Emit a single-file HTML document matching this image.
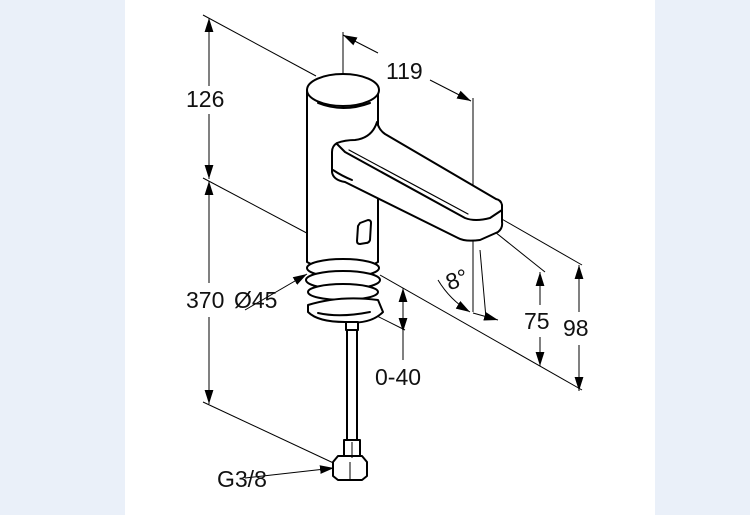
<!DOCTYPE html>
<html><head><meta charset="utf-8"><style>
html,body{margin:0;padding:0;background:#fff}
svg{display:block}
text{font-family:"Liberation Sans",sans-serif;font-size:23px;fill:#111}
</style></head><body>
<svg width="750" height="515" viewBox="0 0 750 515" xmlns="http://www.w3.org/2000/svg">
<defs>
<marker id="a" viewBox="0 0 10 10" refX="10" refY="5" markerWidth="14" markerHeight="11" orient="auto-start-reverse" markerUnits="userSpaceOnUse" preserveAspectRatio="none"><path d="M0,1 L10,5 L0,9 z" fill="#000"/></marker>
</defs>
<rect x="0" y="0" width="125" height="515" fill="#eaf0f9"/>
<rect x="655" y="0" width="95" height="515" fill="#eaf0f9"/>
<g stroke="#000" stroke-width="1" fill="none">
<line x1="209" y1="18" x2="209" y2="86" marker-start="url(#a)"/>
<line x1="209" y1="114" x2="209" y2="179" marker-end="url(#a)"/>
<line x1="209" y1="181" x2="209" y2="283" marker-start="url(#a)"/>
<line x1="209" y1="317" x2="209" y2="404" marker-end="url(#a)"/>
<line x1="203" y1="15" x2="316" y2="76"/>
<line x1="203" y1="178" x2="318" y2="239"/>
<line x1="203" y1="402" x2="342" y2="467"/>
<line x1="245" y1="310" x2="307" y2="274" marker-end="url(#a)"/>
<line x1="245" y1="478" x2="334" y2="468" marker-end="url(#a)"/>
<line x1="343" y1="32" x2="343" y2="74"/>
<line x1="343" y1="35" x2="378" y2="53" marker-start="url(#a)"/>
<line x1="430" y1="80" x2="471" y2="101" marker-end="url(#a)"/>
<line x1="473" y1="98" x2="473" y2="312"/>
<line x1="480" y1="250" x2="486" y2="318"/>
<line x1="473" y1="313" x2="498" y2="320" marker-end="url(#a)"/>
<path d="M438,280 Q450,300 470,312" marker-end="url(#a)"/>
<line x1="490" y1="228" x2="545" y2="272"/>
<line x1="500" y1="218" x2="582" y2="265"/>
<line x1="380" y1="275" x2="582" y2="390"/>
<line x1="375" y1="315" x2="405" y2="330"/>
<line x1="540" y1="272" x2="540" y2="305" marker-start="url(#a)"/>
<line x1="540" y1="337" x2="540" y2="366" marker-end="url(#a)"/>
<line x1="579" y1="265" x2="579" y2="312" marker-start="url(#a)"/>
<line x1="579" y1="345" x2="579" y2="391" marker-end="url(#a)"/>
<line x1="403" y1="288" x2="403" y2="332" marker-start="url(#a)" marker-end="url(#a)"/>
<line x1="403" y1="330" x2="403" y2="360"/>
</g>
<g stroke="#000" stroke-width="2" fill="#fff" stroke-linejoin="round" stroke-linecap="round">
<path d="M307,90 L307,262 Q343,282 378,262 L378,90"/>
<ellipse cx="343" cy="90" rx="36" ry="16"/>
<path d="M318,103 Q343,113 370,103" fill="none"/>
<path d="M377,122 Q372,138 355,140 Q345,140 337,143 Q332,146 332,152 L332,172 Q333,180 345,182 L458,238 Q465,242 480,240 L498,232 Q503,228 502,222 L502,205 Q501,200 496,199 L385,134 Q379,130 377,122 Z"/>
<path d="M337,144 L345,152 L465,218 Q475,222 490,218 L502,210" fill="none"/>
<path d="M349,150 L468,214" fill="none" stroke-width="1.2"/>
<path d="M333,170 Q342,176 352,180" fill="none"/>
<path d="M360,223 L368,220 Q371,220 371,223 L370,240 Q369,243 366,243 L360,244 Q357,244 357,241 L358,226 Z"/>
<ellipse cx="343" cy="268" rx="36" ry="9"/>
<ellipse cx="343" cy="280" rx="37" ry="9"/>
<ellipse cx="343" cy="292" rx="35" ry="8"/>
<path d="M308,305 Q340,295 378,300 L383,312 Q370,325 345,322 Q318,322 308,312 Z"/>
<path d="M318,313 Q340,318 370,312" fill="none"/>
<rect x="346" y="322" width="12" height="8"/>
<rect x="347" y="330" width="10" height="112"/>
<rect x="344" y="440" width="16" height="20"/>
<path d="M333,462 L338,456 L362,456 L367,462 L367,476 L362,480 L338,480 L333,476 Z"/>
</g>
<g stroke="#000" stroke-width="1">
<line x1="352" y1="442" x2="352" y2="458"/>
<line x1="350" y1="462" x2="350" y2="479"/>
</g>
<text x="186" y="107">126</text>
<text x="186" y="308">370</text>
<text x="234" y="308">Ø45</text>
<text x="386" y="79">119</text>
<text x="446" y="288" transform="rotate(-20 455 280)">8°</text>
<text x="524" y="329">75</text>
<text x="563" y="336">98</text>
<text x="375" y="385">0-40</text>
<text x="217" y="487">G3/8</text>
</svg>
</body></html>
